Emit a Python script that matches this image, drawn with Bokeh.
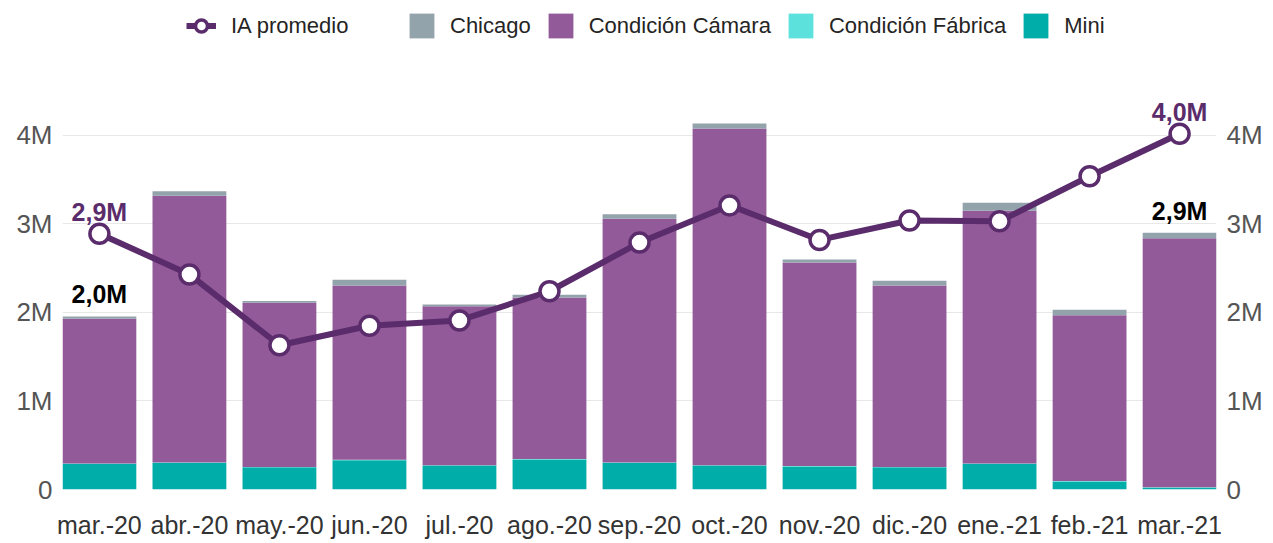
from bokeh.plotting import figure
from bokeh.models import (Range1d, LinearAxis, Legend, LegendItem, FixedTicker,
                          ColumnDataSource)
from bokeh.core.properties import value
from bokeh.embed import file_html
from bokeh.resources import INLINE

# ---------------- data (values in millions) ----------------
months = ["mar.-20", "abr.-20", "may.-20", "jun.-20", "jul.-20", "ago.-20",
          "sep.-20", "oct.-20", "nov.-20", "dic.-20", "ene.-21", "feb.-21", "mar.-21"]
mini = [0.29, 0.30, 0.25, 0.33, 0.27, 0.34, 0.30, 0.27, 0.26, 0.25, 0.29, 0.09, 0.02]
cond_fabrica = [0.005, 0.005, 0.005, 0.005, 0.005, 0.005, 0.005, 0.005, 0.005, 0.005, 0.005, 0.005, 0.005]
cond_camara = [1.635, 3.015, 1.855, 1.97, 1.795, 1.825, 2.755, 3.805, 2.30, 2.05, 2.855, 1.875, 2.815]
chicago = [0.025, 0.05, 0.02, 0.065, 0.02, 0.03, 0.05, 0.055, 0.035, 0.055, 0.09, 0.06, 0.06]
ia_promedio = [2.89, 2.43, 1.63, 1.85, 1.91, 2.24, 2.79, 3.21, 2.82, 3.04, 3.03, 3.54, 4.02]

y_ticks = [0, 1, 2, 3, 4]
y_tick_labels = ["0", "1M", "2M", "3M", "4M"]

# ---------------- styles ----------------
C_CHICAGO = "#93A3AB"
C_CAMARA = "#935A99"
C_FABRICA = "#5CE1DC"
C_MINI = "#00ADA8"
C_LINE = "#5B2C6B"
FONT = "Liberation Sans"
Y_END = 5.435

xs = list(range(len(months)))
totals = [a + b + c + d for a, b, c, d in zip(mini, cond_fabrica, cond_camara, chicago)]

def fmt(v):
    return f"{v:.1f}".replace(".", ",") + "M"

src = ColumnDataSource(dict(x=xs, mini=mini, fab=cond_fabrica, cam=cond_camara,
                            chi=chicago, ia=ia_promedio, total=totals))

p = figure(frame_width=1154, frame_height=481,
           x_range=Range1d(-0.41, len(months) - 1 + 0.41),
           y_range=Range1d(0, Y_END),
           output_backend="svg", toolbar_location=None,
           min_border_left=62, min_border_right=49,
           min_border_top=8, min_border_bottom=46)
p.outline_line_color = None
p.background_fill_color = "white"
p.border_fill_color = "white"
p.extra_y_ranges = {"ia": Range1d(0, Y_END)}

bars = p.vbar_stack(["mini", "fab", "cam", "chi"], x="x", width=0.82, source=src,
                    color=[C_MINI, C_FABRICA, C_CAMARA, C_CHICAGO], line_width=0)

line_r = p.line("x", "ia", source=src, line_color=C_LINE, line_width=6,
                y_range_name="ia")
pts_r = p.scatter("x", "ia", source=src, size=19, fill_color="white",
                  line_color=C_LINE, line_width=3.5, y_range_name="ia")

# data labels
n = len(months) - 1
line_lab = ColumnDataSource(dict(x=[0, n], y=[ia_promedio[0], ia_promedio[n]],
                                 t=[fmt(ia_promedio[0]), fmt(ia_promedio[n])]))
bar_lab = ColumnDataSource(dict(x=[0, n], y=[totals[0], totals[n]],
                                t=[fmt(totals[0]), fmt(totals[n])]))
p.text("x", "y", text="t", source=bar_lab, text_font=value(FONT),
       text_font_style="bold", text_font_size="25px", text_color="#000000",
       text_align="center", text_baseline="bottom", y_offset=-8)
p.text("x", "y", text="t", source=line_lab, text_font=value(FONT),
       text_font_style="bold", text_font_size="25px", text_color=C_LINE,
       text_align="center", text_baseline="bottom", y_offset=-8,
       y_range_name="ia")

# axes
xa = p.xaxis[0]
xa.ticker = FixedTicker(ticks=xs)
xa.major_label_overrides = {i: m for i, m in enumerate(months)}
xa.major_label_text_font = FONT
xa.major_label_text_font_size = "25px"
xa.major_label_text_color = "#333333"
xa.major_label_standoff = 21
xa.axis_line_color = None
xa.major_tick_line_color = None
xa.minor_tick_line_color = None
xa.major_tick_out = 0

ya = p.yaxis[0]
right = LinearAxis(y_range_name="ia")
p.add_layout(right, "right")
for ax in (ya, right):
    ax.ticker = FixedTicker(ticks=y_ticks)
    ax.major_label_overrides = {t: l for t, l in zip(y_ticks, y_tick_labels)}
    ax.major_label_text_font = FONT
    ax.major_label_text_font_size = "26px"
    ax.major_label_text_color = "#555555"
    ax.major_label_standoff = 10
    ax.axis_line_color = None
    ax.major_tick_line_color = None
    ax.minor_tick_line_color = None
    ax.major_tick_out = 0

p.xgrid.grid_line_color = None
p.ygrid.grid_line_color = "#E8E8E8"
p.ygrid.grid_line_width = 1
p.ygrid.ticker = FixedTicker(ticks=y_ticks)

# legends
def style_legend(lg):
    lg.orientation = "horizontal"
    lg.label_text_font = FONT
    lg.label_text_font_size = "22px"
    lg.label_text_color = "#252423"
    lg.border_line_color = None
    lg.background_fill_alpha = 0
    lg.padding = 0
    lg.margin = 0
    lg.spacing = 14
    lg.glyph_height = 31
    lg.label_standoff = 13

leg1 = Legend(items=[LegendItem(label="IA promedio", renderers=[line_r, pts_r])],
              location=(124, 448))
style_legend(leg1)
leg1.glyph_width = 30
leg1.label_standoff = 15
leg2 = Legend(items=[LegendItem(label="Chicago", renderers=[bars[3]]),
                     LegendItem(label="Condición Cámara", renderers=[bars[2]]),
                     LegendItem(label="Condición Fábrica", renderers=[bars[1]]),
                     LegendItem(label="Mini", renderers=[bars[0]])],
              location=(344, 448))
style_legend(leg2)
leg2.glyph_width = 31
p.add_layout(leg1, "center")
p.add_layout(leg2, "center")

open("out.html", "w").write(file_html(p, INLINE))
